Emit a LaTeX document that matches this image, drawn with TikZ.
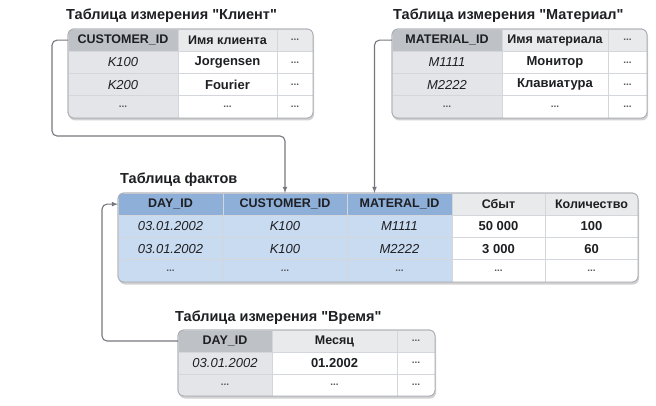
\documentclass[tikz,border=0pt]{standalone}
\usepackage{fontspec}
\setmainfont{Liberation Sans}[Ligatures=TeXOff]
\usetikzlibrary{positioning,shadows}

\definecolor{keygray}{HTML}{BEC1C6}
\definecolor{keylight}{HTML}{E3E5E9}
\definecolor{headgray}{HTML}{E9EAEC}
\definecolor{keyblue}{HTML}{8DAFD8}
\definecolor{lightblue}{HTML}{C9DBF0}
\definecolor{gridc}{HTML}{D3D6DA}
\definecolor{framec}{HTML}{A9ADB3}
\definecolor{linkc}{HTML}{74787E}
\definecolor{dotc}{HTML}{55595F}
\definecolor{textc}{HTML}{1E1F22}

\begin{document}
\begin{tikzpicture}[x=1pt, y=-1pt, >=latex,
    cell/.style={draw=gridc, line width=.8pt, minimum width=#1, minimum height=22.25pt,
        inner sep=0pt, outer sep=0pt, text=textc,
        font=\fontsize{12.5}{14}\selectfont\bfseries},
    keyh/.style={fill=keygray},
    keyc/.style={fill=keylight, font=\fontsize{13}{14}\selectfont\itshape},
    fkeyh/.style={fill=keyblue},
    fkeyc/.style={fill=lightblue, font=\fontsize{13}{14}\selectfont\itshape},
    hd/.style={fill=headgray},
    val/.style={fill=white, font=\fontsize{13}{14}\selectfont\bfseries},
    dots/.style={font=\fontsize{10}{11}\selectfont\bfseries, text=dotc},
    tabtitle/.style={anchor=west, inner sep=0pt, text=textc,
        font=\fontsize{14.5}{16}\selectfont\bfseries},
    tabframe/.style={draw=framec, line width=.8pt, rounded corners=6pt},
    tabshadow/.style={fill=white, drop shadow={shadow xshift=1pt, shadow yshift=-2.5pt,
        opacity=.18, fill=black}},
    link/.style={->, draw=linkc, line width=1.1pt, rounded corners=5pt}]
\useasboundingbox (0,0) rectangle (656,406);

% dimension table: client
\node[tabtitle] (klt) at (66,16) {Таблица измерения "Клиент"};
\path[tabframe, tabshadow] (68,29) rectangle (313,118);
\begin{scope}
    \clip[rounded corners=6pt] (68,29) rectangle (313,118);
    \node[cell=110pt, keyh, anchor=north west] (kl11) at (68,29) {CUSTOMER\_ID};
    \node[cell=99pt, hd, right=0pt of kl11] (kl12) {Имя клиента};
    \node[cell=36pt, hd, dots, right=0pt of kl12] (kl13) {...};
    \node[cell=110pt, keyc, below=0pt of kl11] (kl21) {K100};
    \node[cell=99pt, val, right=0pt of kl21] (kl22) {Jorgensen};
    \node[cell=36pt, val, dots, right=0pt of kl22] (kl23) {...};
    \node[cell=110pt, keyc, below=0pt of kl21] (kl31) {K200};
    \node[cell=99pt, val, right=0pt of kl31] (kl32) {Fourier};
    \node[cell=36pt, val, dots, right=0pt of kl32] (kl33) {...};
    \node[cell=110pt, keyc, dots, below=0pt of kl31] (kl41) {...};
    \node[cell=99pt, val, dots, right=0pt of kl41] (kl42) {...};
    \node[cell=36pt, val, dots, right=0pt of kl42] (kl43) {...};
\end{scope}
\draw[tabframe] (68,29) rectangle (313,118);

% dimension table: material
\node[tabtitle] (mtt) at (393,16) {Таблица измерения "Материал"};
\path[tabframe, tabshadow] (392,29) rectangle (647,118);
\begin{scope}
    \clip[rounded corners=6pt] (392,29) rectangle (647,118);
    \node[cell=110pt, keyh, anchor=north west] (mt11) at (392,29) {MATERIAL\_ID};
    \node[cell=106pt, hd, right=0pt of mt11] (mt12) {Имя материала};
    \node[cell=39pt, hd, dots, right=0pt of mt12] (mt13) {...};
    \node[cell=110pt, keyc, below=0pt of mt11] (mt21) {M1111};
    \node[cell=106pt, val, right=0pt of mt21] (mt22) {Монитор};
    \node[cell=39pt, val, dots, right=0pt of mt22] (mt23) {...};
    \node[cell=110pt, keyc, below=0pt of mt21] (mt31) {M2222};
    \node[cell=106pt, val, right=0pt of mt31] (mt32) {Клавиатура};
    \node[cell=39pt, val, dots, right=0pt of mt32] (mt33) {...};
    \node[cell=110pt, keyc, dots, below=0pt of mt31] (mt41) {...};
    \node[cell=106pt, val, dots, right=0pt of mt41] (mt42) {...};
    \node[cell=39pt, val, dots, right=0pt of mt42] (mt43) {...};
\end{scope}
\draw[tabframe] (392,29) rectangle (647,118);

% fact table
\node[tabtitle] (fct) at (120,180) {Таблица фактов};
\path[tabframe, tabshadow] (118,193) rectangle (638,282);
\begin{scope}
    \clip[rounded corners=6pt] (118,193) rectangle (638,282);
    \node[cell=105pt, fkeyh, anchor=north west] (fc11) at (118,193) {DAY\_ID};
    \node[cell=124pt, fkeyh, right=0pt of fc11] (fc12) {CUSTOMER\_ID};
    \node[cell=105pt, fkeyh, right=0pt of fc12] (fc13) {MATERAL\_ID};
    \node[cell=93pt, hd, right=0pt of fc13] (fc14) {Сбыт};
    \node[cell=93pt, hd, right=0pt of fc14] (fc15) {Количество};
    \node[cell=105pt, fkeyc, below=0pt of fc11] (fc21) {03.01.2002};
    \node[cell=124pt, fkeyc, right=0pt of fc21] (fc22) {K100};
    \node[cell=105pt, fkeyc, right=0pt of fc22] (fc23) {M1111};
    \node[cell=93pt, val, right=0pt of fc23] (fc24) {50 000};
    \node[cell=93pt, val, right=0pt of fc24] (fc25) {100};
    \node[cell=105pt, fkeyc, below=0pt of fc21] (fc31) {03.01.2002};
    \node[cell=124pt, fkeyc, right=0pt of fc31] (fc32) {K100};
    \node[cell=105pt, fkeyc, right=0pt of fc32] (fc33) {M2222};
    \node[cell=93pt, val, right=0pt of fc33] (fc34) {3 000};
    \node[cell=93pt, val, right=0pt of fc34] (fc35) {60};
    \node[cell=105pt, fkeyc, dots, below=0pt of fc31] (fc41) {...};
    \node[cell=124pt, fkeyc, dots, right=0pt of fc41] (fc42) {...};
    \node[cell=105pt, fkeyc, dots, right=0pt of fc42] (fc43) {...};
    \node[cell=93pt, val, dots, right=0pt of fc43] (fc44) {...};
    \node[cell=93pt, val, dots, right=0pt of fc44] (fc45) {...};
\end{scope}
\draw[tabframe] (118,193) rectangle (638,282);

% dimension table: time
\node[tabtitle] (tmt) at (175,318) {Таблица измерения "Время"};
\path[tabframe, tabshadow] (178,330) rectangle (435,396);
\begin{scope}
    \clip[rounded corners=6pt] (178,330) rectangle (435,396);
    \node[cell=94pt, keyh, minimum height=22pt, anchor=north west] (tm11) at (178,330) {DAY\_ID};
    \node[cell=125pt, hd, minimum height=22pt, right=0pt of tm11] (tm12) {Месяц};
    \node[cell=38pt, hd, dots, minimum height=22pt, right=0pt of tm12] (tm13) {...};
    \node[cell=94pt, keyc, minimum height=22pt, below=0pt of tm11] (tm21) {03.01.2002};
    \node[cell=125pt, val, minimum height=22pt, right=0pt of tm21] (tm22) {01.2002};
    \node[cell=38pt, val, dots, minimum height=22pt, right=0pt of tm22] (tm23) {...};
    \node[cell=94pt, keyc, dots, minimum height=22pt, below=0pt of tm21] (tm31) {...};
    \node[cell=125pt, val, dots, minimum height=22pt, right=0pt of tm31] (tm32) {...};
    \node[cell=38pt, val, dots, minimum height=22pt, right=0pt of tm32] (tm33) {...};
\end{scope}
\draw[tabframe] (178,330) rectangle (435,396);

% links
\draw[link] (kl11.west) -- ++(-16,0) |- ([yshift=57pt]fc12.north) -- (fc12.north);
\draw[link] (mt11.west) -| ([xshift=-25pt]fc13.north);
\draw[link] (tm11.west) -- ++(-76,0) |- (fc11.west);
\end{tikzpicture}
\end{document}
